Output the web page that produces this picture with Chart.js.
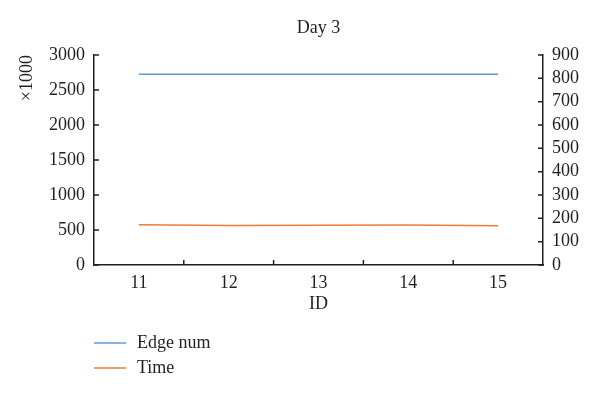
<!DOCTYPE html>
<html>
<head>
<meta charset="utf-8">
<script src="https://cdn.jsdelivr.net/npm/chart.js@4/dist/chart.umd.min.js"></script>
<style>
  html, body { margin: 0; padding: 0; background: #fff; }
  #wrap { width: 600px; height: 394px; position: relative; }
</style>
</head>
<body>
<div id="wrap"><canvas id="dayChart" width="600" height="394"></canvas></div>
<script>
// data
var ids = ['11', '12', '13', '14', '15'];
var edgeNum = [2725, 2725, 2725, 2725, 2725];   // left axis, x1000
var timeVals = [173, 169.5, 170, 171.5, 168.5]; // right axis
var leftTicks = [0, 500, 1000, 1500, 2000, 2500, 3000];
var rightTicks = [0, 100, 200, 300, 400, 500, 600, 700, 800, 900];

var ink = '#231f20';
var serif = "'Liberation Serif', 'DejaVu Serif', serif";
var fs = 18;

// inward tick marks, title and legend drawn on top
var extras = {
    id: 'extras',
    afterDraw: function (chart) {
        var c = chart.ctx, a = chart.chartArea;
        var x = chart.scales.x, y = chart.scales.y, y1 = chart.scales.y1;
        c.save();
        c.strokeStyle = ink;
        c.lineWidth = 1.5;
        c.beginPath();
        leftTicks.forEach(function (v) {
            var p = y.getPixelForValue(v);
            c.moveTo(a.left, p); c.lineTo(a.left + 5, p);
        });
        rightTicks.forEach(function (v) {
            var p = y1.getPixelForValue(v);
            c.moveTo(a.right, p); c.lineTo(a.right - 5, p);
        });
        for (var i = 0; i < ids.length - 1; i++) {
            var px = (x.getPixelForValue(i) + x.getPixelForValue(i + 1)) / 2;
            c.moveTo(px, a.bottom); c.lineTo(px, a.bottom - 5);
        }
        c.stroke();

        c.fillStyle = ink;
        c.font = fs + 'px ' + serif;
        c.textAlign = 'center';
        c.textBaseline = 'middle';
        c.fillText('Day 3', (a.left + a.right) / 2, 28);

        c.textAlign = 'left';
        chart.data.datasets.forEach(function (ds, k) {
            var ly = 343 + k * 25;
            c.strokeStyle = ds.borderColor;
            c.lineWidth = 1.5;
            c.beginPath();
            c.moveTo(94, ly); c.lineTo(126, ly);
            c.stroke();
            c.fillText(ds.label, 137, ly);
        });
        c.restore();
    }
};

var plain = function (v) { return String(v); };

var ctx = document.getElementById('dayChart').getContext('2d');
var dayChart = new Chart(ctx, {
    type: 'line',
    data: {
        labels: ids,
        datasets: [{
            label: 'Edge num',
            data: edgeNum,
            borderColor: '#5b9bd5',
            borderWidth: 1.5,
            pointRadius: 0,
            yAxisID: 'y'
        }, {
            label: 'Time',
            data: timeVals,
            borderColor: '#ed7d31',
            borderWidth: 1.5,
            pointRadius: 0,
            yAxisID: 'y1'
        }]
    },
    options: {
        responsive: false,
        animation: false,
        layout: { padding: { top: 55, left: 0, right: 0, bottom: 79 } },
        plugins: { legend: { display: false }, title: { display: false }, tooltip: { enabled: false } },
        scales: {
            x: {
                type: 'category',
                offset: true,
                grid: { display: false, drawTicks: false },
                border: { display: true, color: ink, width: 1.5 },
                ticks: { color: ink, padding: 7, font: { family: serif, size: fs } },
                title: { display: true, text: 'ID', color: ink, padding: { top: 2, bottom: 0 }, font: { family: serif, size: fs } },
                afterFit: function (s) { s.height = 50; }
            },
            y: {
                position: 'left',
                min: 0, max: 3000,
                afterBuildTicks: function (s) { s.ticks = leftTicks.map(function (v) { return { value: v }; }); },
                grid: { display: false, drawTicks: false },
                border: { display: true, color: ink, width: 1.5 },
                ticks: { color: ink, padding: 9, autoSkip: false, callback: plain, font: { family: serif, size: fs } },
                title: { display: true, text: '×1000', align: 'end', color: ink, padding: { top: 16, bottom: 0 }, font: { family: serif, size: fs } },
                afterFit: function (s) { s.width = 94; }
            },
            y1: {
                position: 'right',
                min: 0, max: 900,
                afterBuildTicks: function (s) { s.ticks = rightTicks.map(function (v) { return { value: v }; }); },
                grid: { display: false, drawTicks: false },
                border: { display: true, color: ink, width: 1.5 },
                ticks: { color: ink, padding: 9, autoSkip: false, callback: plain, font: { family: serif, size: fs } },
                afterFit: function (s) { s.width = 57; }
            }
        }
    },
    plugins: [extras]
});
</script>
</body>
</html>
